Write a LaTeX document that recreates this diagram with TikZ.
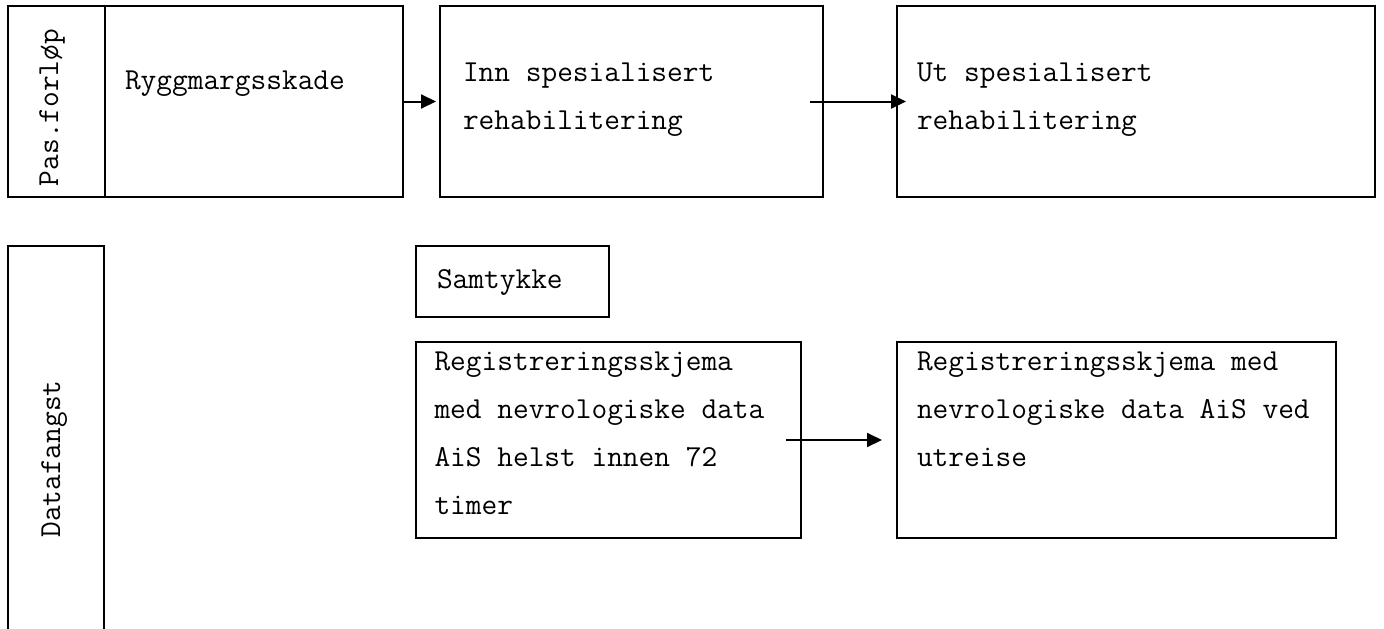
\documentclass[tikz,border=0pt]{standalone}
\usepackage{fontspec}
\usetikzlibrary{arrows.meta}
\tikzset{
  box/.style={draw, line width=1.8pt, inner sep=0pt, outer sep=0pt, anchor=north west},
  txt/.style={inner sep=0pt, outer sep=0pt, font=\ttfamily\fontsize{30.5}{48}\selectfont},
  conn/.style={line width=2pt, -{Triangle[length=15pt,width=14pt]}}
}
\newcommand{\lines}[1]{\begin{tabular}[t]{@{}l@{}}#1\end{tabular}}
\begin{document}
\begin{tikzpicture}[x=1pt,y=-1pt]
  \clip (0,0) rectangle (1384,629);
  \fill[white] (0,0) rectangle (1384,629);
  % top row
  \node[box, minimum width=97pt, minimum height=191pt] (pas) at (8,6) {};
  \node[box, minimum width=298pt, minimum height=191pt] (ryg) at (105,6) {};
  \node[box, minimum width=383pt, minimum height=191pt] (inn) at (440,6) {};
  \node[box, minimum width=478pt, minimum height=191pt] (ut) at (897,6) {};
  % bottom row
  \node[box, minimum width=96pt, minimum height=430pt] (data) at (8,246) {};
  \node[box, minimum width=193pt, minimum height=71pt] (sam) at (416,246) {};
  \node[box, minimum width=385pt, minimum height=196pt] (reg) at (416,342) {};
  \node[box, minimum width=439pt, minimum height=196pt] (reg2) at (897,342) {};
  % texts
  \node[txt, rotate=90, anchor=base] (pastxt) at (58,107.5) {Pas.forløp};
  \node[txt, rotate=90, anchor=base] (datatxt) at (60,459) {Datafangst};
  \node[txt, anchor=base west] (rygtxt) at (125,89) {Ryggmargsskade};
  \node[txt, anchor=base west] (inntxt) at (463,81) {\lines{Inn spesialisert\\rehabilitering}};
  \node[txt, anchor=base west] (uttxt) at (917,81) {\lines{Ut spesialisert\\rehabilitering}};
  \node[txt, anchor=base west] (samtxt) at (437,288) {Samtykke};
  \node[txt, anchor=base west] (regtxt) at (434.5,370.5) {\lines{Registreringsskjema\\med nevrologiske data\\AiS helst innen 72\\timer}};
  \node[txt, anchor=base west] (reg2txt) at (917,370.5) {\lines{Registreringsskjema med\\nevrologiske data AiS ved\\utreise}};
  % connectors
  \draw[conn, shorten >=4pt] (ryg.east) -- (inn.west);
  \draw[conn, shorten <=-13pt, shorten >=-9pt] (inn.east) -- (ut.west);
  \draw[conn, shorten <=-15pt, shorten >=15pt] (reg.east) -- (reg2.west);
\end{tikzpicture}
\end{document}
